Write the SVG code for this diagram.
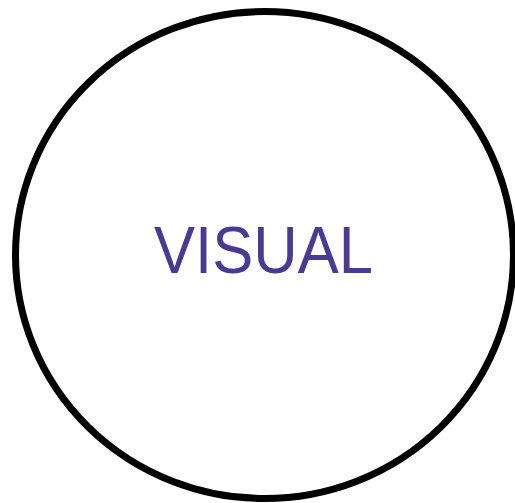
<svg xmlns="http://www.w3.org/2000/svg" width="515" height="503" viewBox="0 0 515 503">
<style>
.outline{fill:#ffffff;stroke:#000000;stroke-width:7}
.label{font-family:"Liberation Sans",Arial,sans-serif;font-size:66px;fill:#4b3a93}
</style>
<rect width="515" height="503" fill="#ffffff"/>
<g id="visual">
<ellipse class="outline" cx="264.5" cy="255" rx="249" ry="243.5"/>
<text class="label" x="154" y="273.3" textLength="219" lengthAdjust="spacingAndGlyphs">VISUAL</text>
</g>
</svg>
